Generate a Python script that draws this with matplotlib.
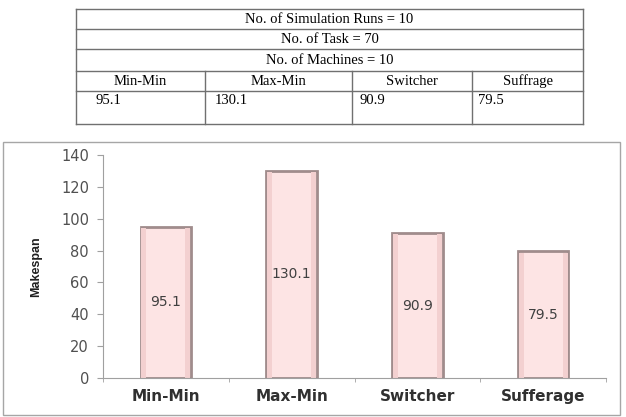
import numpy as np
import matplotlib.pyplot as plt
from matplotlib.patches import Rectangle

# data
table_info = ['No. of Simulation Runs = 10', 'No. of Task = 70', 'No. of Machines = 10']
algorithms = ['Min-Min', 'Max-Min', 'Switcher', 'Suffrage']
table_values = ['95.1', '130.1', '90.9', '79.5']
chart_labels = ['Min-Min', 'Max-Min', 'Switcher', 'Sufferage']
makespan = [95.1, 130.1, 90.9, 79.5]

W, H = 626, 417
fig = plt.figure(figsize=(W / 100, H / 100), dpi=100)

# overlay in pixel coords for table and chart frame
ov = fig.add_axes([0, 0, 1, 1])
ov.set_xlim(0, W)
ov.set_ylim(H, 0)
ov.axis('off')

line_kw = dict(color='#707070', lw=1.0)
tl, tr = 76, 583
rows = [9, 29, 49, 71, 91, 124]
cols = [76, 205, 352, 472, 583]
val_pad = [20, 10, 8, 6]
for y in rows:
    ov.plot([tl, tr], [y, y], **line_kw)
ov.plot([tl, tl], [rows[0], rows[-1]], **line_kw)
ov.plot([tr, tr], [rows[0], rows[-1]], **line_kw)
for x in cols[1:-1]:
    ov.plot([x, x], [rows[3], rows[-1]], **line_kw)

tfont = dict(family='Liberation Serif', fontsize=10.5, color='black')
for i, txt in enumerate(table_info):
    ov.text((tl + tr) / 2, (rows[i] + rows[i + 1]) / 2 + 0.5, txt, ha='center', va='center', **tfont)
for j, name in enumerate(algorithms):
    ov.text((cols[j] + cols[j + 1]) / 2, (rows[3] + rows[4]) / 2 + 0.5, name, ha='center', va='center', **tfont)
    ov.text(cols[j] + val_pad[j], 100, table_values[j], ha='left', va='center', **tfont)

ov.add_patch(Rectangle((3, 142), 617, 273, fill=False, ec='#a6a6a6', lw=1.0))

# chart
x0, x1, y0, y1 = 103, 606, 378, 155
ax = fig.add_axes([x0 / W, (H - y0) / H, (x1 - x0) / W, (y0 - y1) / H])
x = np.arange(len(makespan))
ax.bar(x, makespan, width=0.4, color='#fde4e4', edgecolor='#a08c8c', linewidth=2.0)
ax.bar(x - 0.175, np.array(makespan) - 0.8, width=0.04, color='#f3d0d0', linewidth=0)
ax.bar(x + 0.175, np.array(makespan) - 0.8, width=0.04, color='#f3d0d0', linewidth=0)
for xi, v in zip(x, makespan):
    ax.text(xi, v / 2, f'{v:.1f}', ha='center', va='center', fontsize=10, color='#404040')

ax.set_xlim(-0.5, len(makespan) - 0.5)
ax.set_ylim(0, 140)
ax.set_yticks(np.arange(0, 141, 20))
ax.set_xticks(x)
ax.set_xticklabels(chart_labels, fontsize=11, fontweight='bold', color='#303030')
ax.set_xticks(np.arange(-0.5, len(makespan), 1), minor=True)
ax.tick_params(axis='x', which='major', length=0, pad=8)
ax.tick_params(axis='x', which='minor', length=3, color='#a0a0a0')
ax.tick_params(axis='y', length=4, color='#a0a0a0', labelsize=10.5, labelcolor='#505050', pad=6)
for s in ['top', 'right']:
    ax.spines[s].set_visible(False)
for s in ['left', 'bottom']:
    ax.spines[s].set_color('#a0a0a0')
ax.set_ylabel('Makespan', fontsize=9, fontweight='bold', family='Liberation Sans', color='#202020', labelpad=14)
ax.patch.set_alpha(0)

fig.savefig('out.png', dpi=100)
